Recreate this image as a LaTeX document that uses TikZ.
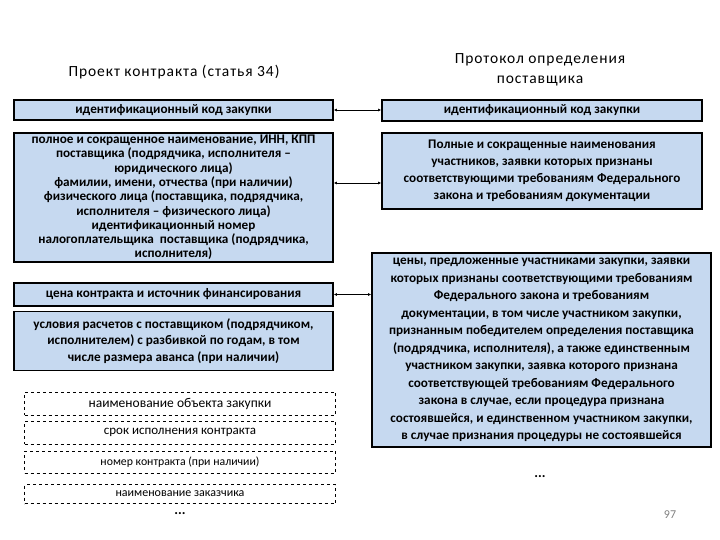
\documentclass[tikz,border=0pt]{standalone}
\usepackage{fontspec}
\setmainfont{Carlito}
\usetikzlibrary{arrows.meta}
\definecolor{boxblue}{HTML}{C6D9F0}
\definecolor{pagegray}{HTML}{808080}
\tikzset{
  bluebox/.style={draw=black, line width=1.8pt, fill=boxblue, inner sep=0pt, align=center,
    font={\bfseries\fontsize{13.2}{14.3}\selectfont}},
  dashbox/.style={draw=black, dashed, line width=0.6pt, inner sep=0pt, align=center},
  titletext/.style={align=center, font={\addfontfeature{LetterSpace=6}\fontsize{15.5}{20}\selectfont}},
  link/.style={{Latex[length=3pt,width=3pt]}-{Latex[length=3pt,width=3pt]}, line width=0.8pt}
}
\begin{document}
\begin{tikzpicture}[x=1pt,y=-1pt]
\useasboundingbox (0,0) rectangle (720,540);
% titles
\node[titletext] (t1) at (174,72) {Проект контракта (статья 34)};
\node[titletext] (t2) at (540,70) {Протокол определения\\поставщика};
% left column
\node[bluebox, minimum width=319pt, minimum height=20pt] (l1) at (173.5,110) {идентификационный код закупки};
\node[bluebox, minimum width=319pt, minimum height=129pt] (l2) at (173.5,197.5)
 {полное и сокращенное наименование, ИНН, КПП\\поставщика (подрядчика, исполнителя –\\юридического лица)\\фамилии, имени, отчества (при наличии)\\физического лица (поставщика, подрядчика,\\исполнителя – физического лица)\\идентификационный номер\\налогоплательщика\ \ поставщика (подрядчика,\\исполнителя)};
\node[bluebox, minimum width=319pt, minimum height=23pt] (l3) at (173.5,294.5) {цена контракта и источник финансирования};
\node[bluebox, minimum width=319pt, minimum height=59pt, font={\bfseries\fontsize{13.2}{16.5}\selectfont}] (l4) at (173.5,341)
 {условия расчетов с поставщиком (подрядчиком,\\исполнителем) с разбивкой по годам, в том\\числе размера аванса (при наличии)};
\node[dashbox, minimum width=311pt, minimum height=23pt, font={\fontsize{13.5}{14}\selectfont}] (d1) at (180,403.5) {наименование объекта закупки};
\node[dashbox, minimum width=311pt, minimum height=23pt, font={\fontsize{13}{14}\selectfont}] (d2) at (180,432.5) {срок исполнения контракта};
\node[dashbox, minimum width=311pt, minimum height=22pt, font={\fontsize{11.8}{12}\selectfont}] (d3) at (180,462) {номер контракта (при наличии)};
\node[dashbox, minimum width=311pt, minimum height=19pt, font={\fontsize{12}{12}\selectfont}] (d4) at (180,494) {наименование заказчика};
\node[font={\bfseries\fontsize{14}{14}\selectfont}] (e1) at (180,514) {...};
% right column
\node[bluebox, minimum width=320pt, minimum height=21pt] (r1) at (542,110.5) {идентификационный код закупки};
\node[bluebox, minimum width=320pt, minimum height=76pt, font={\bfseries\fontsize{13.2}{17}\selectfont}] (r2) at (542,171)
 {Полные и сокращенные наименования\\участников, заявки которых признаны\\соответствующими требованиям Федерального\\закона и требованиям документации};
\node[bluebox, minimum width=339pt, minimum height=194pt, font={\bfseries\fontsize{13.2}{17.5}\selectfont}] (r3) at (541.5,350)
 {цены, предложенные участниками закупки, заявки\\которых признаны соответствующими требованиям\\Федерального закона и требованиям\\документации, в том числе участником закупки,\\признанным победителем определения поставщика\\(подрядчика, исполнителя), а также единственным\\участником закупки, заявка которого признана\\соответствующей требованиям Федерального\\закона в случае, если процедура признана\\состоявшейся, и единственном участником закупки,\\в случае признания процедуры не состоявшейся};
\node[font={\bfseries\fontsize{14}{14}\selectfont}] (e2) at (540,477) {...};
\node[text=pagegray, font={\fontsize{12}{13}\selectfont}] (pg) at (670,515) {97};
% connectors
\draw[link] (l1.east) -- (r1.west |- l1.east);
\draw[link] (l2.east |- 0,183) -- (r2.west |- 0,183);
\draw[link] (l3.east) -- (r3.west |- l3.east);
\end{tikzpicture}
\end{document}
